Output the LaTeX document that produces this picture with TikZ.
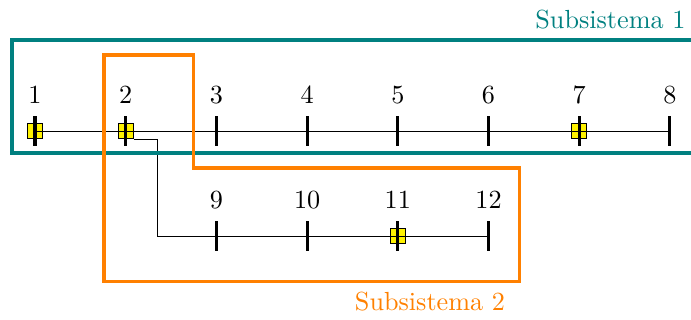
\documentclass[tikz,border=0pt]{standalone}
\begin{document}
\begin{tikzpicture}[x=0.382pt,y=-0.382pt,
  busbar/.style={rectangle,fill=black,inner sep=0pt,minimum width=1.2pt,minimum height=11.5pt},
  genbox/.style={rectangle,draw=black,line width=0.4pt,fill=yellow,inner sep=0pt,minimum size=5.8pt},
  buslabel/.style={inner sep=0pt},
  wire/.style={line width=0.3pt,black},
  area1/.style={draw=teal,line width=1.5pt},
  area2/.style={draw=orange,line width=1.3pt,line join=miter}]
\clip (0,0) rectangle (691,320);

% generator boxes (drawn first so lines and bars lie on top)
\node[genbox] (g1)  at (35,131) {};
\node[genbox] (g2)  at (126,131) {};
\node[genbox] (g7)  at (579,131) {};
\node[genbox] (g11) at (398,236) {};

% bus positions
\foreach \i in {1,...,8} {
  \coordinate (c\i) at ({35+90.7*(\i-1)},131);
}
\foreach \i/\k in {9/3,10/4,11/5,12/6} {
  \coordinate (c\i) at ({35+90.7*(\k-1)},236);
}

% lines
\draw[wire] (c1) -- (c8);
\coordinate (tap) at (157,236);
\draw[wire] (g2.south east) -| (tap) -- (c12);

% bus bars and labels
\foreach \i in {1,...,12} {
  \node[busbar] (b\i) at (c\i) {};
  \node[buslabel] (l\i) at ([yshift=13.9pt]c\i) {\i};
}

% subsystem boundaries
\draw[area1] (12,40) rectangle (700,153);
\draw[area2] (104,55) -- (193.5,55) -- (193.5,168) -- (519.5,168) -- (519.5,281.5) -- (104,281.5) -- cycle;

\node[teal,anchor=east,inner sep=0pt] (s1) at (686,20) {Subsistema 1};
\node[orange] (s2) at (430,302) {Subsistema 2};
\end{tikzpicture}
\end{document}
